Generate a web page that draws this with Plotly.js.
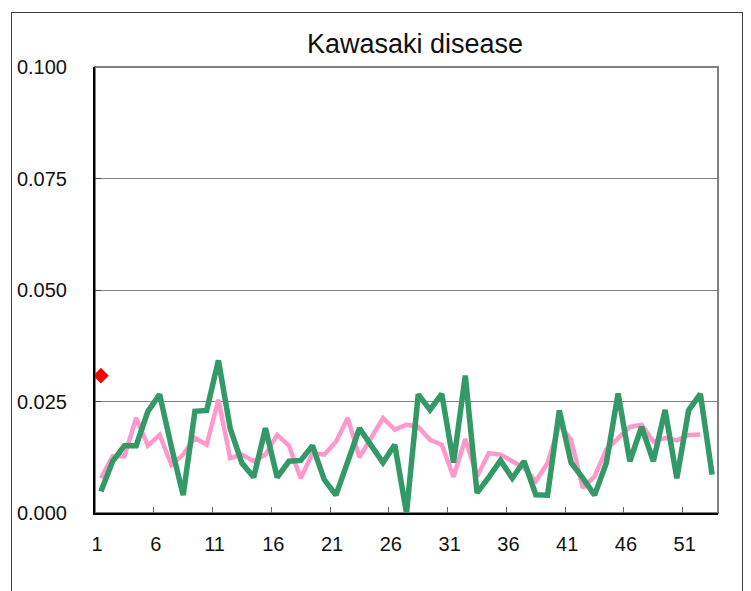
<!DOCTYPE html>
<html>
<head>
<meta charset="utf-8">
<script src="https://cdn.plot.ly/plotly-3.0.1.min.js"></script>
<style>
  html, body { margin: 0; padding: 0; background: #fff; }
  #wrap { position: relative; width: 751px; height: 591px; overflow: hidden; }
  #chart { position: absolute; left: 0; top: 0; width: 751px; height: 591px; }
  #frame { position: absolute; left: 11px; top: 12px; width: 730px; height: 640px;
           border: 1px solid #404040; pointer-events: none; }
</style>
</head>
<body>
<div id="wrap">
  <div id="chart"></div>
  <div id="frame"></div>
</div>
<script>
// Week numbers (categories)
const weeks = [1,2,3,4,5,6,7,8,9,10,11,12,13,14,15,16,17,18,19,20,21,22,23,24,25,26,27,
               28,29,30,31,32,33,34,35,36,37,38,39,40,41,42,43,44,45,46,47,48,49,50,51,52,53];

// Pink series (52 weeks)
const pinkValues = [0.0078,0.0127,0.0127,0.0213,0.0151,0.0175,0.0108,0.0131,0.0168,0.0153,
                    0.0254,0.0123,0.0131,0.0116,0.0131,0.0175,0.0151,0.0078,0.0134,0.0131,
                    0.0160,0.0213,0.0125,0.0168,0.0213,0.0187,0.0198,0.0193,0.0164,0.0153,
                    0.0081,0.0166,0.0082,0.0134,0.0131,0.0116,0.0101,0.0071,0.0112,0.0198,
                    0.0164,0.0056,0.0082,0.0142,0.0166,0.0193,0.0198,0.0160,0.0168,0.0163,
                    0.0175,0.0176];

// Green series (53 weeks)
const greenValues = [0.0048,0.0116,0.0151,0.0151,0.0228,0.0266,0.0148,0.0040,0.0228,0.0230,
                     0.0342,0.0190,0.0112,0.0080,0.0190,0.0080,0.0116,0.0118,0.0151,0.0075,
                     0.0040,0.0112,0.0190,0.0151,0.0113,0.0153,0.0000,0.0266,0.0231,0.0267,
                     0.0113,0.0308,0.0045,0.0080,0.0118,0.0078,0.0116,0.0041,0.0040,0.0230,
                     0.0113,0.0078,0.0040,0.0112,0.0268,0.0116,0.0193,0.0116,0.0231,0.0078,
                     0.0230,0.0267,0.0086];

// Current-week marker
const markerWeek = [1];
const markerValue = [0.0308];

// Tick labels
const xTickWeeks = [1,6,11,16,21,26,31,36,41,46,51];
const xTickText = ['1','6','11','16','21','26','31','36','41','46','51'];
const yTickVals = [0, 0.025, 0.05, 0.075, 0.1];
const yTickText = ['0.000','0.025','0.050','0.075','0.100'];

const font = 'Liberation Sans, Arial, sans-serif';

const traces = [
  { x: weeks.slice(0, pinkValues.length), y: pinkValues, type: 'scatter', mode: 'lines',
    line: { color: '#FF99CC', width: 4.5 }, hoverinfo: 'skip' },
  { x: weeks, y: greenValues, type: 'scatter', mode: 'lines',
    line: { color: '#339966', width: 5.5 }, hoverinfo: 'skip' },
  { x: markerWeek, y: markerValue, type: 'scatter', mode: 'markers', cliponaxis: false,
    marker: { symbol: 'diamond', size: 12, color: '#FF0000' }, hoverinfo: 'skip' }
];

const layout = {
  width: 751, height: 591,
  margin: { l: 95, r: 33, t: 67, b: 78 },
  paper_bgcolor: '#ffffff', plot_bgcolor: '#ffffff',
  showlegend: false,
  font: { family: font, color: '#000' },
  title: { text: 'Kawasaki disease', font: { family: font, size: 27, color: '#111' },
           x: 415/751, xanchor: 'center', y: 1 - 44/591, yanchor: 'middle' },
  xaxis: {
    range: [0.5, 53.5], showgrid: false, zeroline: false,
    showline: true, linecolor: '#000', linewidth: 2,
    tickmode: 'array', tickvals: xTickWeeks.map(w => w - 0.5), ticktext: xTickText,
    ticks: 'inside', ticklen: 6, tickwidth: 1, tickcolor: '#666',
    ticklabelshift: 2, ticklabelstandoff: 12,
    tickfont: { family: font, size: 20, color: '#111' }
  },
  yaxis: {
    range: [0, 0.1], zeroline: false,
    showgrid: true, gridcolor: '#808080', gridwidth: 1,
    showline: true, linecolor: '#000', linewidth: 2,
    tickmode: 'array', tickvals: yTickVals, ticktext: yTickText,
    ticks: 'inside', ticklen: 6, tickwidth: 1, tickcolor: '#444',
    ticklabelstandoff: 22,
    tickfont: { family: font, size: 20, color: '#111' }
  },
  shapes: [
    { type: 'rect', xref: 'paper', yref: 'paper', x0: 0, x1: 1, y0: 0, y1: 1,
      line: { color: '#808080', width: 2 }, layer: 'below' }
  ]
};

Plotly.newPlot('chart', traces, layout, { staticPlot: true, displayModeBar: false });
</script>
</body>
</html>
